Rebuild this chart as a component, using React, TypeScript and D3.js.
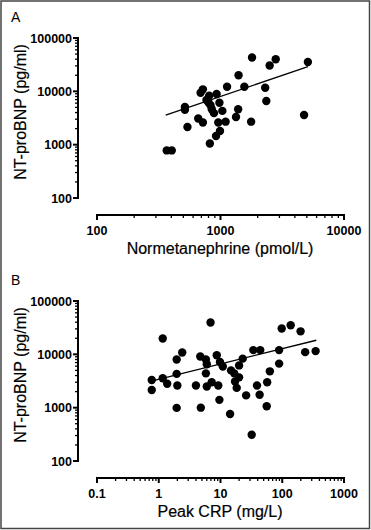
import { useRef, useEffect } from 'react'
import * as d3 from 'd3'

const W = 371
const H = 530

// Panel A: normetanephrine (pmol/L) vs NT-proBNP (pg/ml)
const normX = [1800, 2800, 2500, 5100, 1400, 1130, 1560, 2300, 720, 690, 810, 930, 800, 980, 2350, 515, 515, 850, 885, 1035, 1390, 1335, 660, 720, 960, 1100, 1770, 540, 4750, 990, 920, 820, 367, 403, 770, 830]
const normY = [43000, 40000, 30500, 35500, 20000, 12200, 12200, 11700, 10900, 9400, 8300, 8900, 6200, 6100, 6600, 5100, 4500, 4600, 3900, 4300, 4600, 3300, 3100, 2600, 2600, 2700, 2700, 2150, 3600, 1800, 1450, 1050, 780, 780, 6900, 5500]
const normFitX = [360, 5110]
const normFitY = [3590, 28960]

// Panel B: peak CRP (mg/L) vs NT-proBNP (pg/ml)
const crpX = [0.77, 0.77, 1.16, 1.16, 1.37, 1.95, 2.4, 1.95, 2.0, 1.95, 4.0, 4.7, 4.8, 5.8, 6.0, 5.8, 6.0, 6.9, 7.2, 8.7, 9.8, 10.9, 9.2, 9.6, 14.3, 14.8, 16.7, 20, 17.2, 18.3, 20, 22.9, 26, 32, 39, 43, 34, 44, 56, 57, 63, 89, 89, 98, 137, 198, 235, 347]
const crpY = [3300, 2150, 19800, 3550, 2800, 8000, 10800, 4300, 2600, 990, 2600, 9100, 1000, 8000, 6500, 4400, 2500, 39600, 3000, 9600, 7200, 5900, 2600, 1400, 760, 5000, 4400, 3700, 3100, 2350, 6200, 8300, 1700, 310, 2600, 1750, 12000, 12000, 1060, 3000, 4800, 6700, 12000, 30500, 35000, 27000, 11000, 11500]
const crpFitX = [0.817, 356]
const crpFitY = [3230, 18370]

const yTicks = [100, 1000, 10000, 100000]
const normTicks = [100, 1000, 10000]
const crpTicks = [0.1, 1, 10, 100, 1000]

const FONT = 'Liberation Sans, Arial, sans-serif'

interface PanelSpec {
  label: string
  top: number
  xDomain: [number, number]
  xTicks: number[]
  xTitle: string
  xs: number[]
  ys: number[]
  fitX: number[]
  fitY: number[]
}

const panels: PanelSpec[] = [
  { label: 'A', top: 0, xDomain: [100, 10000], xTicks: normTicks, xTitle: 'Normetanephrine (pmol/L)', xs: normX, ys: normY, fitX: normFitX, fitY: normFitY },
  { label: 'B', top: 263, xDomain: [0.1, 1000], xTicks: crpTicks, xTitle: 'Peak CRP (mg/L)', xs: crpX, ys: crpY, fitX: crpFitX, fitY: crpFitY },
]

function minorTicks(lo: number, hi: number) {
  const out: number[] = []
  for (let e = Math.round(Math.log10(lo)); e < Math.round(Math.log10(hi)); e++) {
    for (let m = 2; m <= 9; m++) out.push(m * Math.pow(10, e))
  }
  return out
}

export default function App() {
  const svgRef = useRef<SVGSVGElement>(null)

  useEffect(() => {
    if (!svgRef.current) return
    const root = d3.select(svgRef.current)
    root.selectAll('*').remove()

    root.append('rect')
      .attr('x', 1).attr('y', 1).attr('width', W - 2.5).attr('height', H - 2.5)
      .attr('fill', '#fff').attr('stroke', '#444').attr('stroke-width', 1.5)

    panels.forEach((p) => {
      const g = root.append('g').attr('transform', `translate(0,${p.top})`)
      const x = d3.scaleLog().domain(p.xDomain).range([97, 344])
      const y = d3.scaleLog().domain([100, 100000]).range([198, 38])
      const axisX = 78
      const axisY = 215

      // panel letter
      g.append('text').attr('x', 11).attr('y', 22)
        .attr('font-family', FONT).attr('font-size', 14).attr('fill', '#000')
        .text(p.label)

      // y axis
      const ya = g.append('g')
      ya.append('line').attr('x1', axisX).attr('x2', axisX).attr('y1', y(100)).attr('y2', y(100000))
        .attr('stroke', '#000').attr('stroke-width', 2)
      ya.selectAll('.ymin').data(minorTicks(100, 100000)).join('line')
        .attr('x1', axisX).attr('x2', axisX - 3).attr('y1', (d) => y(d)).attr('y2', (d) => y(d))
        .attr('stroke', '#000').attr('stroke-width', 1.3)
      ya.selectAll('.ymaj').data(yTicks).join('line')
        .attr('x1', axisX + 1).attr('x2', axisX - 5).attr('y1', (d) => y(d)).attr('y2', (d) => y(d))
        .attr('stroke', '#000').attr('stroke-width', 2)
      ya.selectAll('text').data(yTicks).join('text')
        .attr('x', axisX - 6).attr('y', (d) => y(d)).attr('dy', '0.36em')
        .attr('text-anchor', 'end').attr('font-family', FONT).attr('font-weight', 'bold')
        .attr('font-size', 12.5).text((d) => String(d))

      // x axis
      const xa = g.append('g')
      xa.append('line').attr('x1', x(p.xDomain[0])).attr('x2', x(p.xDomain[1])).attr('y1', axisY).attr('y2', axisY)
        .attr('stroke', '#000').attr('stroke-width', 2)
      xa.selectAll('.xmin').data(minorTicks(p.xDomain[0], p.xDomain[1])).join('line')
        .attr('x1', (d) => x(d)).attr('x2', (d) => x(d)).attr('y1', axisY).attr('y2', axisY + 3)
        .attr('stroke', '#000').attr('stroke-width', 1.3)
      xa.selectAll('.xmaj').data(p.xTicks).join('line')
        .attr('x1', (d) => x(d)).attr('x2', (d) => x(d)).attr('y1', axisY - 1).attr('y2', axisY + 5)
        .attr('stroke', '#000').attr('stroke-width', 2)
      xa.selectAll('text').data(p.xTicks).join('text')
        .attr('x', (d) => x(d)).attr('y', axisY + 20)
        .attr('text-anchor', 'middle').attr('font-family', FONT).attr('font-weight', 'bold')
        .attr('font-size', 12.5).text((d) => String(d))

      // titles
      g.append('text').attr('x', 220).attr('y', 254)
        .attr('text-anchor', 'middle').attr('font-family', FONT).attr('font-size', 16)
        .attr('stroke', '#000').attr('stroke-width', 0.2)
        .text(p.xTitle)
      g.append('text').attr('transform', `translate(26,${112}) rotate(-90)`)
        .attr('text-anchor', 'middle').attr('font-family', FONT).attr('font-size', 16)
        .attr('stroke', '#000').attr('stroke-width', 0.2)
        .text('NT-proBNP (pg/ml)')

      // points
      g.selectAll('circle').data(p.xs.map((v, i) => [v, p.ys[i]])).join('circle')
        .attr('cx', (d) => x(d[0])).attr('cy', (d) => y(d[1])).attr('r', 4.2).attr('fill', '#000')

      // fit line
      const line = d3.line<number>().x((_, i) => x(p.fitX[i])).y((_, i) => y(p.fitY[i]))
      g.append('path').attr('d', line(p.fitX) ?? '').attr('fill', 'none')
        .attr('stroke', '#000').attr('stroke-width', 1.3)
    })
  }, [])

  return (
    <svg ref={svgRef} width={W} height={H}
      style={{ position: 'absolute', left: 0, top: 0, background: '#fff' }} />
  )
}
